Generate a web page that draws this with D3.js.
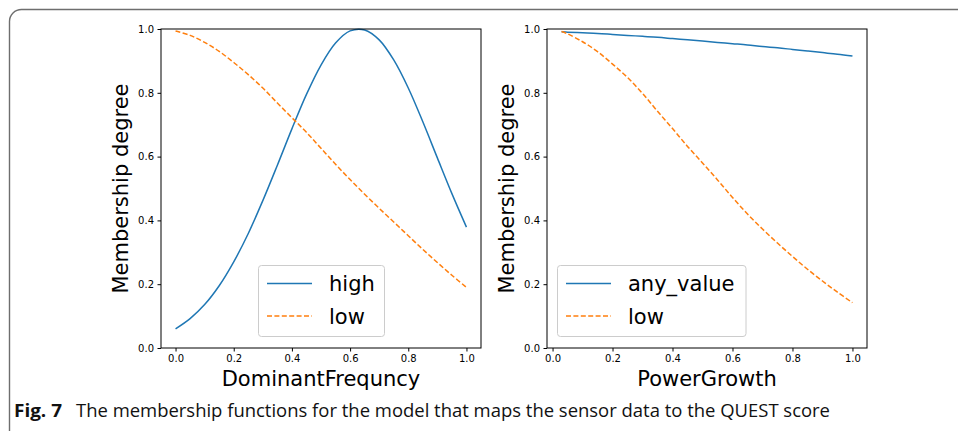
<!DOCTYPE html>
<html>
<head>
<meta charset="utf-8">
<script src="https://cdn.jsdelivr.net/npm/d3@7"></script>
<style>
  body { margin: 0; background: #fff; }
  svg { display: block; }
  .axis text { font-family: "DejaVu Sans", sans-serif; font-size: 10px; fill: #000; }
  .axis path, .axis line { stroke: #000; stroke-width: 1; }
  .lbl { font-family: "DejaVu Sans", sans-serif; font-size: 21px; fill: #000; }
</style>
</head>
<body>
<svg id="fig" width="958" height="431"></svg>
<script>
// values
var xLeft = [0, 0.05, 0.1, 0.15, 0.2, 0.25, 0.3, 0.35, 0.4, 0.45, 0.5, 0.55, 0.6, 0.65, 0.7, 0.75, 0.8, 0.85, 0.9, 0.95, 1.0];
var highLeft = [0.060, 0.092, 0.136, 0.195, 0.270, 0.359, 0.462, 0.573, 0.687, 0.795, 0.887, 0.956, 0.994, 0.997, 0.966, 0.903, 0.815, 0.709, 0.596, 0.484, 0.379];
var lowLeft = [0.994, 0.980, 0.958, 0.930, 0.895, 0.857, 0.815, 0.768, 0.722, 0.676, 0.626, 0.576, 0.528, 0.482, 0.438, 0.395, 0.352, 0.309, 0.268, 0.228, 0.190];

var xRight = [0.03, 0.05, 0.1, 0.15, 0.2, 0.25, 0.3, 0.35, 0.4, 0.45, 0.5, 0.55, 0.6, 0.65, 0.7, 0.75, 0.8, 0.85, 0.9, 0.95, 1.0];
var anyRight = [0.991, 0.990, 0.988, 0.986, 0.983, 0.980, 0.977, 0.974, 0.970, 0.966, 0.962, 0.958, 0.954, 0.950, 0.945, 0.941, 0.936, 0.931, 0.926, 0.921, 0.915];
var lowRight = [0.992, 0.985, 0.960, 0.929, 0.890, 0.848, 0.798, 0.742, 0.688, 0.632, 0.580, 0.527, 0.472, 0.420, 0.373, 0.329, 0.287, 0.247, 0.210, 0.175, 0.142];

var xTicks = [0, 0.2, 0.4, 0.6, 0.8, 1.0];
var yTicks = [0, 0.2, 0.4, 0.6, 0.8, 1.0];

var BLUE = "#1f77b4", ORANGE = "#ff7f0e";
var TOP = 29, BOTTOM = 348;

var svg = d3.select("#fig");

// rounded frame round the figure
svg.append("rect")
   .attr("x", 9.5).attr("y", 9.5)
   .attr("width", 990).attr("height", 460)
   .attr("rx", 12).attr("ry", 12)
   .attr("fill", "none")
   .attr("stroke", "#6e6e6e")
   .attr("stroke-width", 1.4);

function panel(opts) {
    var xScale = d3.scaleLinear().domain(opts.xdom).range([opts.left, opts.right]);
    var yScale = d3.scaleLinear().domain([0, 1]).range([BOTTOM, TOP]);
    var g = svg.append("g");

    var line = d3.line()
        .x(function(d) { return xScale(d[0]); })
        .y(function(d) { return yScale(d[1]); })
        .curve(d3.curveCatmullRom);

    g.append("path")
     .attr("d", line(d3.zip(opts.xs, opts.s1)))
     .attr("fill", "none").attr("stroke", BLUE).attr("stroke-width", 1.5);
    g.append("path")
     .attr("d", line(d3.zip(opts.xs, opts.s2)))
     .attr("fill", "none").attr("stroke", ORANGE).attr("stroke-width", 1.5)
     .attr("stroke-dasharray", "5,2.4");

    // frame
    g.append("rect")
     .attr("x", opts.left).attr("y", TOP)
     .attr("width", opts.right - opts.left).attr("height", BOTTOM - TOP)
     .attr("fill", "none").attr("stroke", "#000").attr("stroke-width", 1);

    g.append("g").attr("class", "axis")
     .attr("transform", "translate(0," + BOTTOM + ")")
     .call(d3.axisBottom(xScale).tickValues(xTicks).tickFormat(d3.format(".1f"))
           .tickSize(3.5).tickPadding(3.5).tickSizeOuter(0))
     .select(".domain").remove();
    g.append("g").attr("class", "axis")
     .attr("transform", "translate(" + opts.left + ",0)")
     .call(d3.axisLeft(yScale).tickValues(yTicks).tickFormat(d3.format(".1f"))
           .tickSize(3.5).tickPadding(3.5).tickSizeOuter(0))
     .select(".domain").remove();

    g.append("text").attr("class", "lbl")
     .attr("x", (opts.left + opts.right) / 2).attr("y", 386)
     .attr("text-anchor", "middle")
     .text(opts.xlabel);
    g.append("text").attr("class", "lbl")
     .attr("transform", "translate(" + (opts.left - 33) + "," + ((TOP + BOTTOM) / 2) + ") rotate(-90)")
     .attr("text-anchor", "middle")
     .text("Membership degree");

    // legend
    var lg = g.append("g").attr("transform", "translate(" + opts.legX + ",265.5)");
    lg.append("rect")
      .attr("width", opts.legW).attr("height", 71).attr("rx", 3)
      .attr("fill", "#fff").attr("fill-opacity", 0.8)
      .attr("stroke", "#cccccc").attr("stroke-width", 1);
    var items = [[opts.names[0], BLUE, null], [opts.names[1], ORANGE, "5,2.4"]];
    items.forEach(function(it, i) {
        var yy = 18 + i * 32.5;
        lg.append("line")
          .attr("x1", 8.5).attr("x2", 53.5).attr("y1", yy).attr("y2", yy)
          .attr("stroke", it[1]).attr("stroke-width", 1.5)
          .attr("stroke-dasharray", it[2]);
        lg.append("text").attr("class", "lbl")
          .attr("x", 70.5).attr("y", yy + 7.5)
          .text(it[0]);
    });
}

panel({ left: 161, right: 481, xdom: [-0.05, 1.05], xs: xLeft, s1: highLeft, s2: lowLeft,
        xlabel: "DominantFrequncy", names: ["high", "low"], legX: 258.5, legW: 126 });
panel({ left: 547, right: 867, xdom: [-0.0185, 1.0485], xs: xRight, s1: anyRight, s2: lowRight,
        xlabel: "PowerGrowth", names: ["any_value", "low"], legX: 557.5, legW: 188.5 });

// caption
svg.append("text")
   .attr("x", 14).attr("y", 417)
   .attr("font-family", "'Open Sans', 'Noto Sans', sans-serif")
   .attr("font-size", 18).attr("font-weight", "bold").attr("fill", "#111")
   .attr("textLength", 48).attr("lengthAdjust", "spacingAndGlyphs")
   .text("Fig. 7");
svg.append("text")
   .attr("x", 76).attr("y", 417)
   .attr("font-family", "'Open Sans', 'Noto Sans', sans-serif")
   .attr("font-size", 18).attr("fill", "#111")
   .attr("textLength", 754).attr("lengthAdjust", "spacingAndGlyphs")
   .text("The membership functions for the model that maps the sensor data to the QUEST score");
</script>
</body>
</html>
